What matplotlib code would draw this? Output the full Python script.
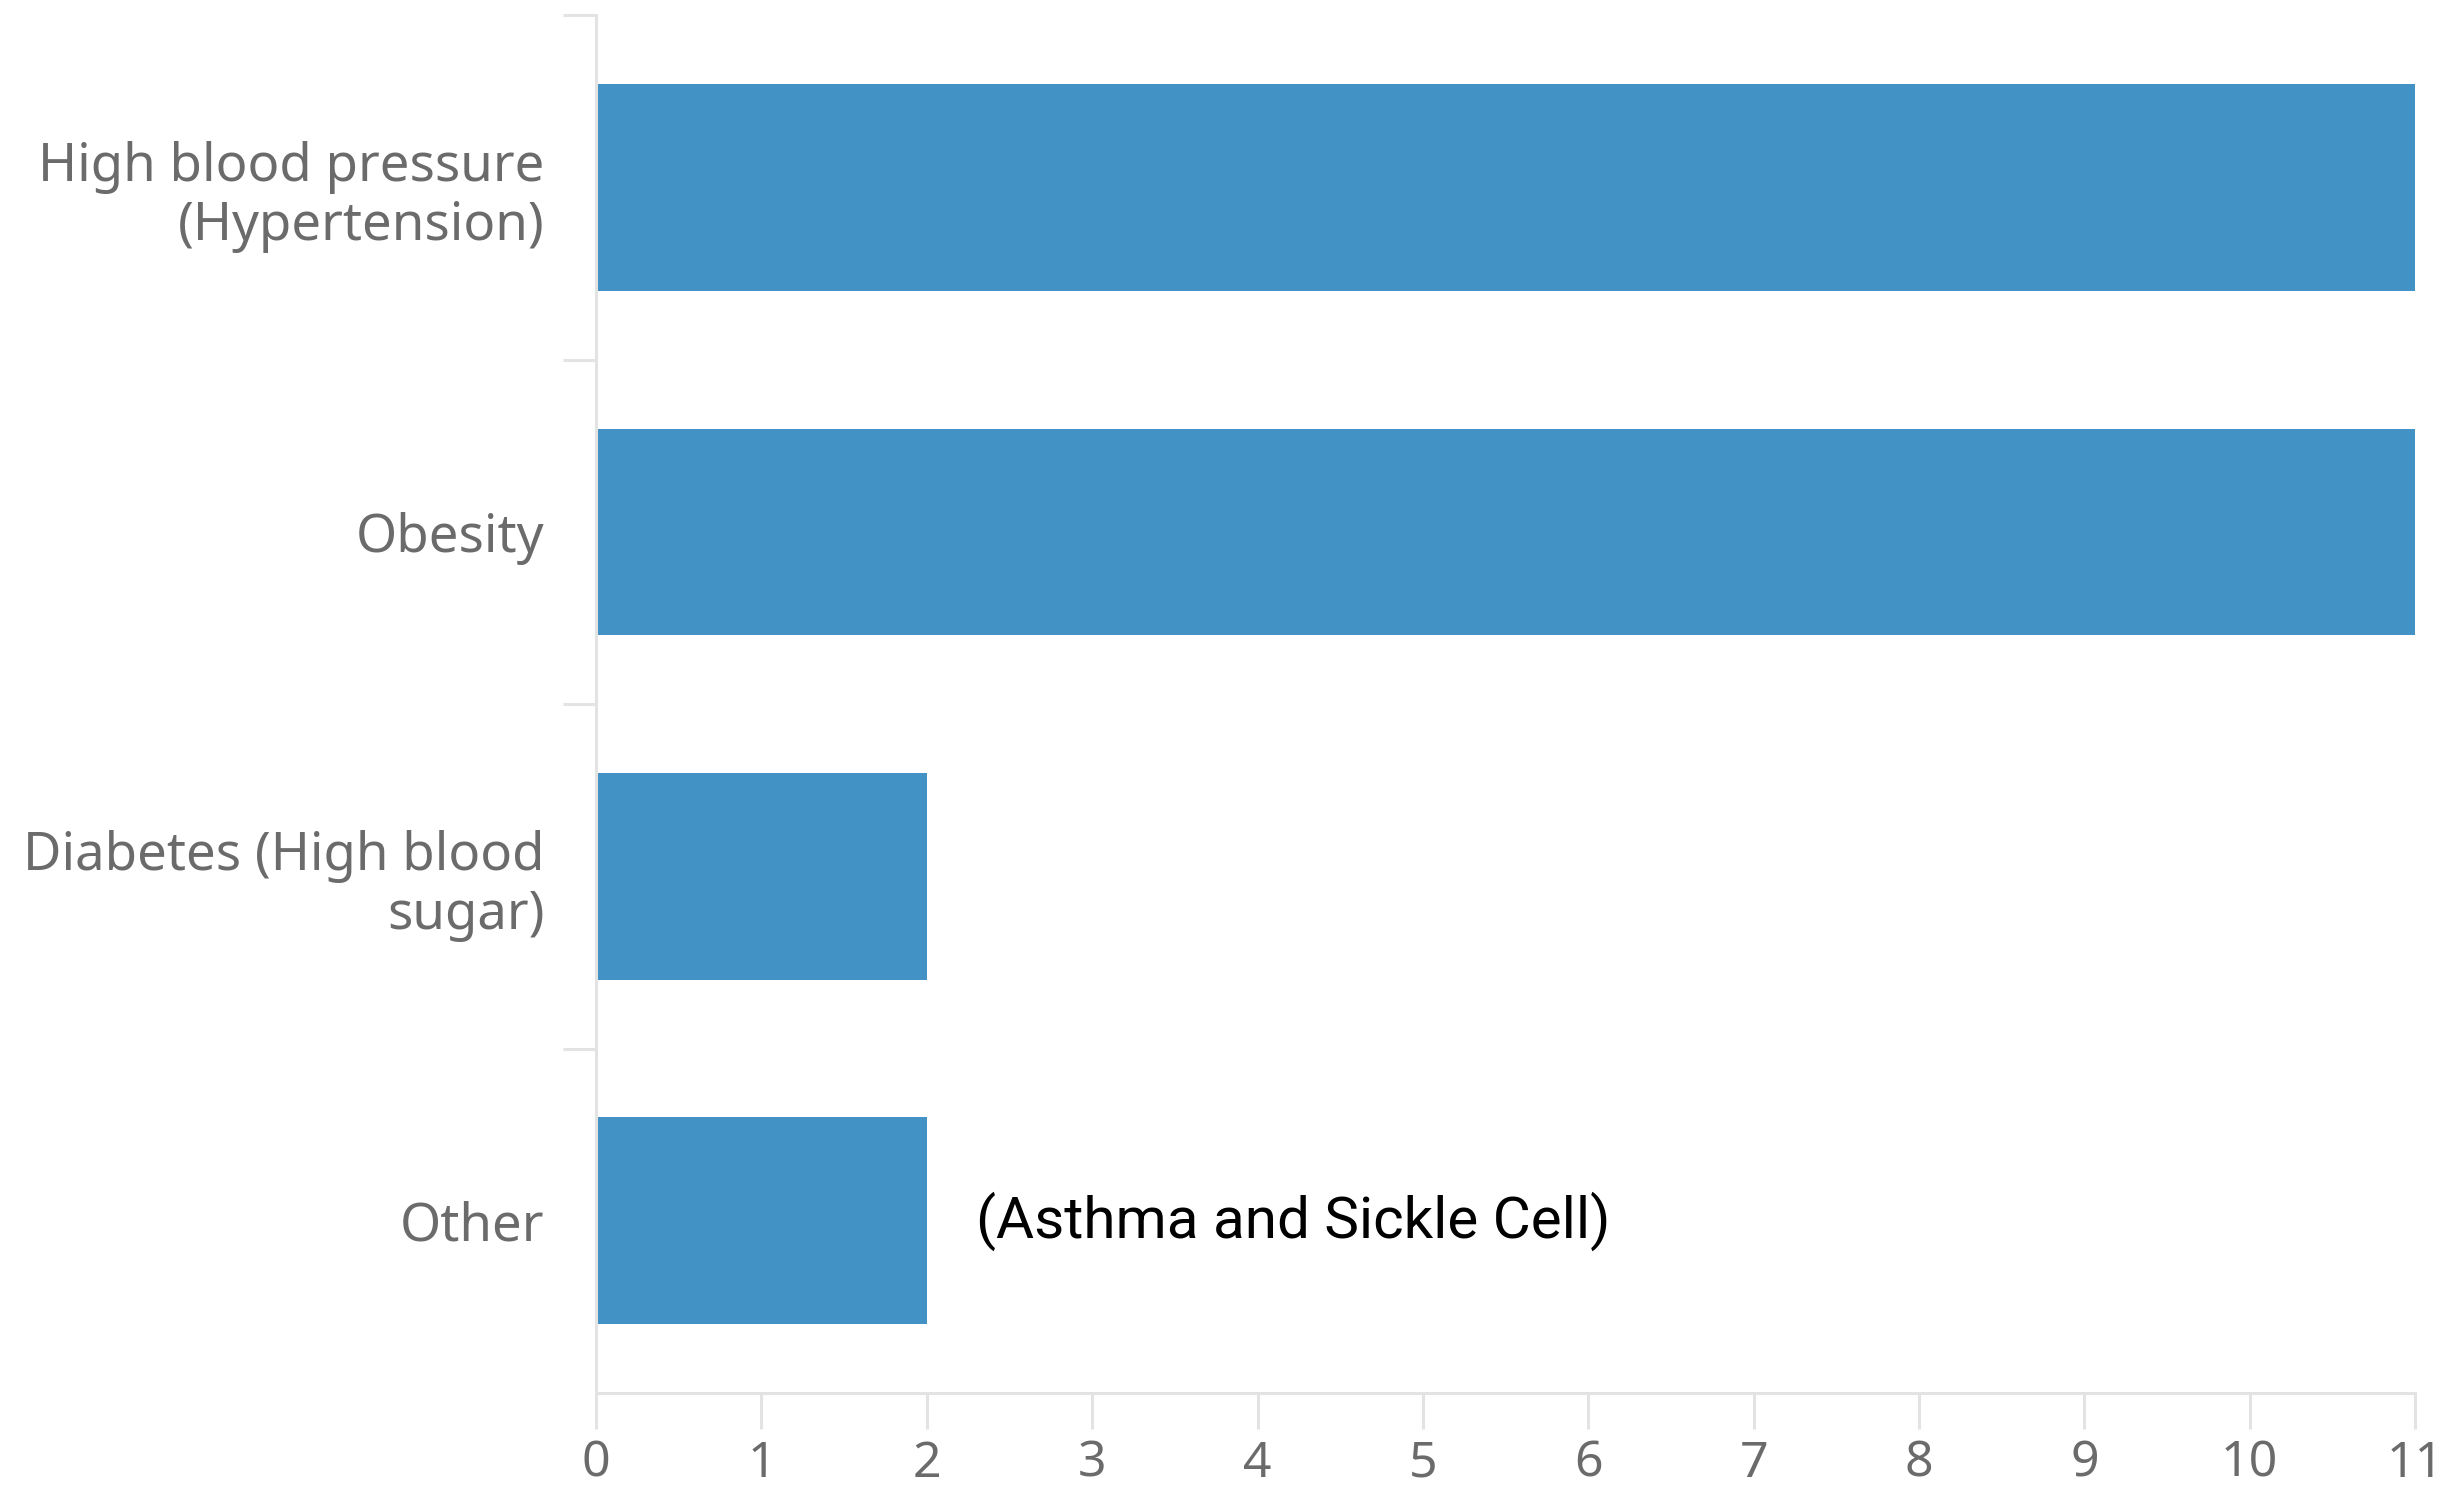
import numpy as np
import matplotlib.pyplot as plt
from matplotlib.ticker import FixedLocator

# data
conditions = ["High blood pressure\n(Hypertension)", "Obesity",
              "Diabetes (High blood\nsugar)", "Other"]
counts = [11, 11, 2, 2]
other_note = "(Asthma and Sickle Cell)"

bar_color = "#4292c6"
axis_gray = "#e3e3e3"
label_gray = "#6b6b6b"

fig = plt.figure(figsize=(24.4, 14.86), dpi=100)
ax = fig.add_axes([0.2443, 0.0626, 0.9898 - 0.2443, 0.9896 - 0.0626])

y = np.arange(len(conditions))
ax.barh(y, counts, height=0.6, color=bar_color)

ax.set_xlim(0, 11)
ax.set_ylim(len(conditions) - 0.5, -0.5)

# note next to the "Other" bar
ax.text(2.3, 3, other_note, va="center", ha="left", fontsize=42,
        family="Roboto", color="black")

# y axis: labels at centres, tick marks at category boundaries
ax.set_yticks(y)
ax.set_yticklabels(conditions, family="Noto Sans", fontsize=38, color=label_gray,
                   linespacing=1.15)
ax.yaxis.set_minor_locator(FixedLocator(np.arange(-0.5, len(conditions) - 0.5, 1)))
ax.tick_params(axis="y", which="major", length=0, pad=37)
ax.tick_params(axis="y", which="minor", length=24, width=2.2, color=axis_gray)

# x axis
ax.set_xticks(range(0, 12))
ax.tick_params(axis="x", which="major", length=26, width=2.2, color=axis_gray,
               pad=7, labelsize=36, labelcolor=label_gray)
for lab in ax.get_xticklabels():
    lab.set_family("Noto Sans")

for side in ["top", "right"]:
    ax.spines[side].set_visible(False)
for side in ["left", "bottom"]:
    ax.spines[side].set_color(axis_gray)
    ax.spines[side].set_linewidth(2.2)

fig.savefig("out.png", dpi=100)
